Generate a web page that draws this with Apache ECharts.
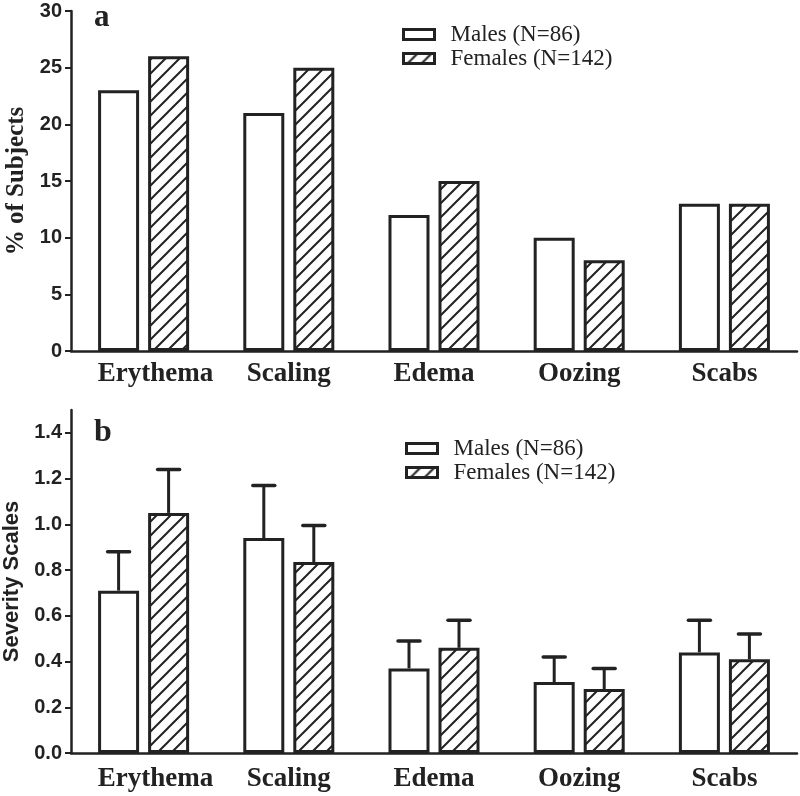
<!DOCTYPE html>
<html><head><meta charset="utf-8">
<script src="https://cdn.jsdelivr.net/npm/echarts@6/dist/echarts.min.js"></script>
<style>html,body{margin:0;padding:0;background:#fff}#c{width:800px;height:796px}</style>
</head><body><div id="c"></div>
<script>
const categories = ['Erythema', 'Scaling', 'Edema', 'Oozing', 'Scabs'];
const seriesNames = ['Males (N=86)', 'Females (N=142)'];
// Panel a: % of subjects
const pctMales = [23, 21, 12, 10, 13];
const pctFemales = [26, 25, 15, 8, 13];
// Panel b: severity mean and upper error (SD)
const sevMales = [0.71, 0.94, 0.37, 0.31, 0.44];
const sevMalesErr = [0.17, 0.23, 0.12, 0.11, 0.14];
const sevFemales = [1.05, 0.835, 0.46, 0.28, 0.41];
const sevFemalesErr = [0.19, 0.16, 0.12, 0.09, 0.11];
const sevTicks = [0, 0.2, 0.4, 0.6, 0.8, 1.0, 1.2, 1.4];

const INK = '#222';
function hatch() {
  const s = 14, cv = document.createElement('canvas');
  cv.width = s; cv.height = s;
  const c = cv.getContext('2d');
  c.fillStyle = '#fff'; c.fillRect(0, 0, s, s);
  c.strokeStyle = INK; c.lineWidth = 2;
  c.beginPath();
  c.moveTo(0, s); c.lineTo(s, 0);
  c.moveTo(-2, 2); c.lineTo(2, -2);
  c.moveTo(s - 2, s + 2); c.lineTo(s + 2, s - 2);
  c.stroke();
  return { image: cv, repeat: 'repeat' };
}
const pattern = hatch();

const BW = 41, GAP = '22%', OFF = 25;
const serifBold = { fontFamily: 'Liberation Serif', fontWeight: 'bold', color: INK };
const sansBold = { fontFamily: 'Liberation Sans', fontWeight: 'bold', color: INK };

function errItem(offset) {
  return function (params, api) {
    const x = api.value(0), m = api.value(1), u = api.value(2);
    const p0 = api.coord([x, m]), p1 = api.coord([x, u]);
    const cx = p0[0] + offset, half = 11;
    return { type: 'group', children: [
      { type: 'line', shape: { x1: cx, y1: p0[1], x2: cx, y2: p1[1] }, style: { stroke: INK, lineWidth: 3 } },
      { type: 'line', shape: { x1: cx - half, y1: p1[1], x2: cx + half, y2: p1[1] }, style: { stroke: INK, lineWidth: 3.5, lineCap: 'round' } }
    ] };
  };
}

// the first category label sits slightly right of its tick in the original
const catData = categories.map((c, i) => i === 0 ? { value: c, textStyle: { padding: [0, 0, 0, 24] } } : c);

function xAxis(idx, margin) {
  return {
    type: 'category', gridIndex: idx, data: catData,
    axisLine: { lineStyle: { color: INK, width: 2.5 } },
    axisTick: { alignWithLabel: true, length: 7, lineStyle: { color: INK, width: 2 } },
    axisLabel: Object.assign({ fontSize: 27, margin: margin, interval: 0, hideOverlap: false }, serifBold)
  };
}
const legendCommon = {
  orient: 'vertical', itemWidth: 31, itemHeight: 10, itemGap: 1, padding: 0,
  icon: 'rect', selectedMode: false,
  itemStyle: { borderColor: INK, borderWidth: 3 },
  textStyle: { fontFamily: 'Liberation Serif', fontSize: 23, color: INK, lineHeight: 23, padding: [0, 0, 0, 11] },
  data: seriesNames
};

const option = {
  animation: false,
  backgroundColor: '#fff',
  grid: [
    { left: 71, right: 3, top: 11, bottom: 445, containLabel: false, outerBoundsMode: 'none' },
    { left: 71, right: 3, top: 410, bottom: 43, containLabel: false, outerBoundsMode: 'none' }
  ],
  legend: [
    Object.assign({ left: 402, top: 23 }, legendCommon),
    Object.assign({ left: 405, top: 437 }, legendCommon)
  ],
  xAxis: [xAxis(0, 10), xAxis(1, 13)],
  yAxis: [
    {
      type: 'value', gridIndex: 0, min: 0, max: 30, interval: 5,
      name: '% of Subjects', nameLocation: 'middle', nameGap: 42,
      nameTextStyle: Object.assign({ fontSize: 25 }, serifBold),
      axisLine: { show: true, lineStyle: { color: INK, width: 2.5 } },
      axisTick: { show: true, length: 6, lineStyle: { color: INK, width: 2 } },
      axisLabel: Object.assign({ fontSize: 20, margin: 9 }, sansBold),
      splitLine: { show: false }
    },
    {
      type: 'value', gridIndex: 1, min: 0, max: 1.5, interval: 0.2,
      name: 'Severity Scales', nameLocation: 'middle', nameGap: 47,
      nameTextStyle: Object.assign({ fontSize: 22 }, sansBold),
      axisLine: { show: true, lineStyle: { color: INK, width: 2.5 } },
      axisTick: { show: true, length: 6, customValues: sevTicks, lineStyle: { color: INK, width: 2 } },
      axisLabel: Object.assign({ fontSize: 20, margin: 9, customValues: sevTicks, formatter: v => v.toFixed(1) }, sansBold),
      splitLine: { show: false }
    }
  ],
  graphic: [
    { type: 'text', left: 94, top: 2, style: { text: 'a', font: 'bold 31px "Liberation Serif"', fill: INK } },
    { type: 'text', left: 94, top: 417, style: { text: 'b', font: 'bold 32px "Liberation Serif"', fill: INK } }
  ],
  series: [
    { type: 'bar', name: seriesNames[0], xAxisIndex: 0, yAxisIndex: 0, data: pctMales, barWidth: BW, barGap: GAP,
      itemStyle: { color: '#fff', borderColor: INK, borderWidth: 3 }, emphasis: { disabled: true } },
    { type: 'bar', name: seriesNames[1], xAxisIndex: 0, yAxisIndex: 0, data: pctFemales, barWidth: BW, barGap: GAP,
      itemStyle: { color: pattern, borderColor: INK, borderWidth: 3 }, emphasis: { disabled: true } },
    { type: 'bar', name: seriesNames[0], xAxisIndex: 1, yAxisIndex: 1, data: sevMales, barWidth: BW, barGap: GAP,
      itemStyle: { color: '#fff', borderColor: INK, borderWidth: 3 }, emphasis: { disabled: true } },
    { type: 'bar', name: seriesNames[1], xAxisIndex: 1, yAxisIndex: 1, data: sevFemales, barWidth: BW, barGap: GAP,
      itemStyle: { color: pattern, borderColor: INK, borderWidth: 3 }, emphasis: { disabled: true } },
    { type: 'custom', xAxisIndex: 1, yAxisIndex: 1, renderItem: errItem(-OFF), z: 3,
      data: categories.map((c, i) => [i, sevMales[i], sevMales[i] + sevMalesErr[i]]) },
    { type: 'custom', xAxisIndex: 1, yAxisIndex: 1, renderItem: errItem(OFF), z: 3,
      data: categories.map((c, i) => [i, sevFemales[i], sevFemales[i] + sevFemalesErr[i]]) }
  ]
};
const chart = echarts.init(document.getElementById('c'));
chart.setOption(option);
</script>
</body></html>
